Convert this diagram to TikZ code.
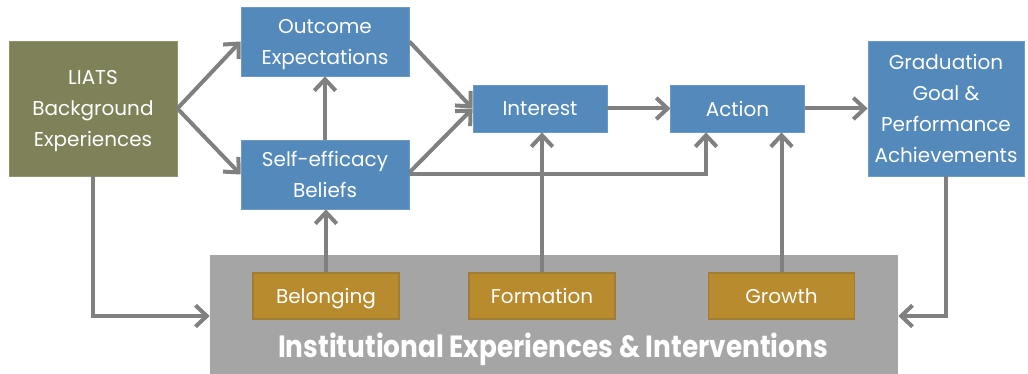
\documentclass[tikz,border=0pt]{standalone}
\usepackage{fontspec}
\setmainfont{Poppins}
\newfontfamily\condfont{Poppins}[FakeStretch=0.86]
\usepackage{tikz}
\usetikzlibrary{positioning, arrows.meta, calc}
\definecolor{boxblue}{HTML}{5489BB}
\definecolor{boxolive}{HTML}{7F8258}
\definecolor{boxgold}{HTML}{B78B2E}
\definecolor{goldedge}{HTML}{A07D30}
\definecolor{panelgray}{HTML}{A5A5A5}
\definecolor{arrgray}{HTML}{808080}
\tikzset{
  blk/.style={rectangle, draw=boxblue!85!white, line width=0.6pt, fill=boxblue,
              text=white, align=center, inner sep=2pt, text depth=0pt,
              font=\fontsize{15}{23.25}\selectfont},
  bg/.style={blk, fill=boxolive, draw=boxolive!85!white},
  lever/.style={rectangle, draw=goldedge, line width=1.2pt, fill=boxgold,
                text=white, align=center, minimum width=109.5pt,
                minimum height=34.5pt, text height=10.5pt, text depth=0pt,
                font=\fontsize{15}{18}\selectfont},
  arr/.style={-{Straight Barb[length=8.5pt, width=16pt]}, line width=3pt,
              draw=arrgray, line join=miter},
}

\begin{document}
\begin{tikzpicture}[x=0.75pt, y=-0.75pt]
  \useasboundingbox (0,0) rectangle (1028,374);
  % institutional panel and its three levers
  \node[rectangle, fill=panelgray, minimum width=516pt, minimum height=92pt,
        inner sep=0pt] (inst) at (554,316) {};
  \node[lever] (belong) at (326,296) {Belonging};
  \node[lever] (form) at (542,296) {Formation};
  \node[lever] (growth) at (781.5,296) {Growth};
  \node[text=white, font=\condfont\bfseries\fontsize{23}{26}\selectfont]
        (instlbl) at (553,349) {Institutional Experiences \& Interventions};
  % model boxes
  \node[bg, minimum width=126pt, minimum height=101.25pt] (liats) at (93,108.5)
        {LIATS\\Background\\Experiences};
  \node[blk, minimum width=126pt, minimum height=51.75pt] (outc) at (325,41.5)
        {Outcome\\Expectations};
  \node[blk, minimum width=126pt, minimum height=51.75pt] (self) at (325,174.5)
        {Self-efficacy\\Beliefs};
  \node[blk, minimum width=100.5pt, minimum height=35.25pt] (inter) at (540,108.5)
        {Interest};
  \node[blk, minimum width=100pt, minimum height=35.25pt] (action) at (737.5,108.5)
        {Action};
  \node[blk, minimum width=117pt, minimum height=101.25pt] (grad) at (946,108.5)
        {Graduation\\Goal \&\\Performance\\Achievements};
  \coordinate (actin) at ($(action.south)+(-31.5,0)$);
  % connectors
  \draw[arr] (liats.east) -- (outc.west);
  \draw[arr] (liats.east) -- (self.west);
  \draw[arr] (self.north) -- (outc.south);
  \draw[arr] (outc.east) -- (inter.west);
  \draw[arr] ([yshift=1.5pt]self.east) -- (inter.west);
  \draw[arr] (self.east) -| (actin);
  \draw[arr] (inter) -- (action);
  \draw[arr] (action) -- (grad);
  \draw[arr] (belong.north) -- (belong.north |- self.south);
  \draw[arr] (form.north) -- (form.north |- inter.south);
  \draw[arr] (growth.north) -- (growth.north |- action.south);
  \draw[arr] (liats.south) |- (inst.west);
  \draw[arr] (grad.south) |- (inst.east);
\end{tikzpicture}
\end{document}
